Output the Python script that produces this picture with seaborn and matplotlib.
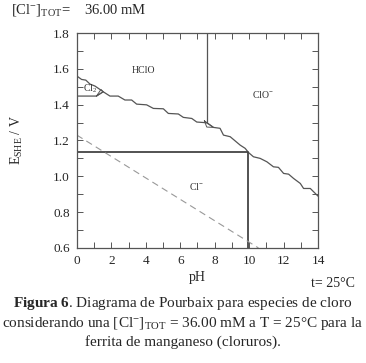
import seaborn as sns
import matplotlib.pyplot as plt
import numpy as np

# limite superior Cl2/HClO + HClO/Cl- (escalones)
ph_sup = [0.0, 0.27, 0.52, 0.76, 1.05, 1.34, 1.53, 1.92, 2.40, 2.79, 3.18, 3.47, 4.05,
          4.44, 5.02, 5.31, 5.89, 6.18, 6.67, 6.96, 7.54]
e_sup = [1.560, 1.541, 1.537, 1.515, 1.504, 1.485, 1.472, 1.448, 1.448, 1.426, 1.426,
         1.403, 1.399, 1.379, 1.377, 1.351, 1.348, 1.329, 1.323, 1.303, 1.299]

# ClO-/Cl-
ph_clo = [7.54, 7.93, 8.31, 8.51, 8.90, 9.48, 9.77, 9.96, 10.25, 10.64, 11.03, 11.41,
          11.70, 12.00, 12.29, 12.58, 12.97, 13.16, 13.55, 14.0]
e_clo = [1.299, 1.273, 1.268, 1.230, 1.221, 1.174, 1.156, 1.133, 1.109, 1.100, 1.081,
         1.053, 1.050, 1.016, 1.012, 0.988, 0.960, 0.932, 0.932, 0.889]

# limite inferior de Cl2
ph_cl2 = [0.0, 1.14, 1.53]
e_cl2 = [1.448, 1.448, 1.472]
ph_tri = [1.14, 1.53, 1.40, 1.14]
e_tri = [1.448, 1.472, 1.485, 1.448]

# HClO/ClO- (vertical)
ph_hclo = [7.54, 7.54]
e_hclo = [1.8, 1.299]
ph_tri2 = [7.40, 7.93, 7.54, 7.40]
e_tri2 = [1.310, 1.273, 1.275, 1.310]

# punto de trabajo
ph_pt = [0.0, 9.96, 9.96]
e_pt = [1.133, 1.133, 0.6]

# O2/H2O
ph_agua = [0.0, 10.54]
e_agua = [1.23, 0.60]

sns.set_style("ticks")
plt.rcParams['font.family'] = ['Liberation Serif', 'DejaVu Serif']
plt.rcParams['mathtext.fontset'] = 'custom'
plt.rcParams['mathtext.rm'] = 'Liberation Serif'
plt.rcParams['mathtext.it'] = 'Liberation Serif:italic'
plt.rcParams['mathtext.bf'] = 'Liberation Serif:bold'

fig = plt.figure(figsize=(3.66, 3.63), dpi=100)
ax = fig.add_axes([0.210, 0.317, 0.659, 0.592])

gris = '#555555'
kw = dict(sort=False, estimator=None, ax=ax, legend=False)
sns.lineplot(x=ph_sup, y=e_sup, color=gris, lw=0.9, **kw)
sns.lineplot(x=ph_clo, y=e_clo, color=gris, lw=0.9, **kw)
sns.lineplot(x=ph_cl2, y=e_cl2, color=gris, lw=0.9, **kw)
sns.lineplot(x=ph_tri, y=e_tri, color=gris, lw=0.7, **kw)
sns.lineplot(x=ph_hclo, y=e_hclo, color=gris, lw=0.9, **kw)
sns.lineplot(x=ph_tri2, y=e_tri2, color=gris, lw=0.7, **kw)
sns.lineplot(x=ph_pt, y=e_pt, color='#444444', lw=1.3, **kw)
sns.lineplot(x=ph_agua, y=e_agua, color='#999999', lw=0.8, dashes=False, linestyle=(0, (6, 4)), **kw)

ax.set_xlim(0, 14)
ax.set_ylim(0.6, 1.8)
ax.set_xticks(np.arange(0, 15, 2))
ax.set_xticks(np.arange(0, 15, 1), minor=True)
ax.set_yticks(np.arange(0.6, 1.81, 0.2))
ax.set_yticks(np.arange(0.6, 1.81, 0.1), minor=True)
ax.set_yticklabels(['0.6', '0.8', '1.0', '1.2', '1.4', '1.6', '1.8'])
ax.tick_params(which='both', direction='in', top=True, right=True, length=4,
               width=0.7, color=gris, labelsize=9.5, pad=5)
for s in ax.spines.values():
    s.set_color(gris)
    s.set_linewidth(0.9)

etq = dict(fontsize=7, color='#333333', ha='center', va='center')
ax.text(3.84, 1.593, 'HClO', **etq)
ax.text(0.75, 1.49, r'Cl$_2$', **etq)
ax.text(10.8, 1.457, r'ClO$^{-}$', **etq)
ax.text(6.96, 0.945, r'Cl$^{-}$', **etq)

ax.set_xlabel('pH', fontsize=10, labelpad=3)
ax.set_ylabel(r'E$_{\mathrm{SHE}}$ / V', fontsize=10, labelpad=20)

fig.text(0.030, 0.972, r'[Cl$^{-}$]$_{\mathrm{TOT}}$=    36.00 mM', fontsize=10.5, va='center')
fig.text(0.91, 0.220, 't= 25°C', fontsize=10, ha='center', va='center')

cap = dict(fontsize=11, ha='center', va='center')
fig.text(0.5, 0.165, r'$\mathbf{Figura\ 6}$. Diagrama de Pourbaix para especies de cloro', **cap)
fig.text(0.5, 0.108, r'considerando una [Cl$^{-}$]$_{\mathrm{TOT}}$ = 36.00 mM a T = 25°C para la', **cap)
fig.text(0.5, 0.058, 'ferrita de manganeso (cloruros).', **cap)

plt.savefig('out.png', dpi=100)
